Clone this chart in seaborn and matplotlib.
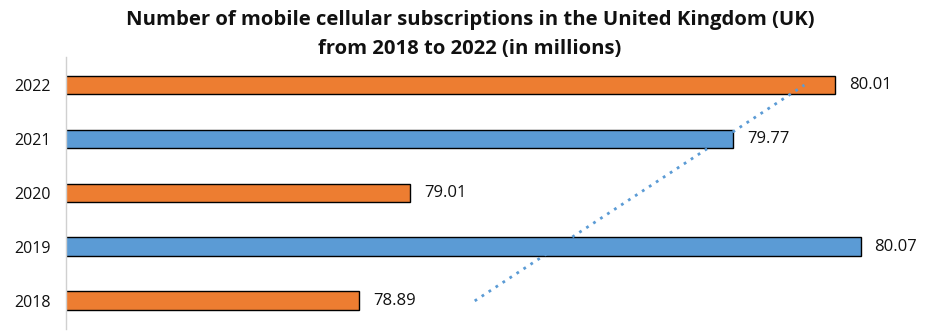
import matplotlib
matplotlib.use("Agg")
import matplotlib.pyplot as plt
import seaborn as sns
import numpy as np
import pandas as pd

years = ["2018", "2019", "2020", "2021", "2022"]
values = [78.89, 80.07, 79.01, 79.77, 80.01]
colors = {"2018": "#ED7D31", "2019": "#5B9BD5", "2020": "#ED7D31",
          "2021": "#5B9BD5", "2022": "#ED7D31"}
title = "Number of mobile cellular subscriptions in the United Kingdom (UK)\nfrom 2018 to 2022 (in millions)"

sns.set_theme(style="white")
plt.rcParams["font.family"] = ["Open Sans", "DejaVu Sans"]

df = pd.DataFrame({"year": years, "value": values})
order = years[::-1]

fig = plt.figure(figsize=(9.4, 3.35), dpi=100)
ax = fig.add_axes([0.0702, 0.018, 0.904, 0.812])

sns.barplot(data=df, y="year", x="value", order=order, hue="year",
            hue_order=order, palette=colors, orient="h", width=0.35,
            saturation=1, edgecolor="black", linewidth=1, legend=False, ax=ax)

ax.set_xlim(78.2, 80.2)
ax.set_ylim(4.52, -0.52)

for c in ax.containers:
    ax.bar_label(c, labels=[f"{v:.2f}" for v in c.datavalues], padding=10,
                 fontsize=12, color="#111111")

# linear trendline across years
xs = np.arange(len(years))
slope, intercept = np.polyfit(xs, values, 1)
trend = slope * xs + intercept
ypos = [order.index(y) for y in years]
ax.plot(trend, ypos, linestyle=(0, (1, 2)), color="#5B9BD5", linewidth=2)

ax.set_xlabel("")
ax.set_ylabel("")
ax.set_xticks([])
ax.tick_params(axis="y", labelsize=11.5, length=0, pad=11, colors="#111111")
for s in ["top", "right", "bottom"]:
    ax.spines[s].set_visible(False)
ax.spines["left"].set_color("#D0D0D0")
ax.spines["left"].set_linewidth(1)

fig.suptitle(title, fontsize=14.6, fontweight="bold", y=0.97, linespacing=1.6,
             color="#111111")

fig.savefig("out.png", dpi=100, facecolor="white")
